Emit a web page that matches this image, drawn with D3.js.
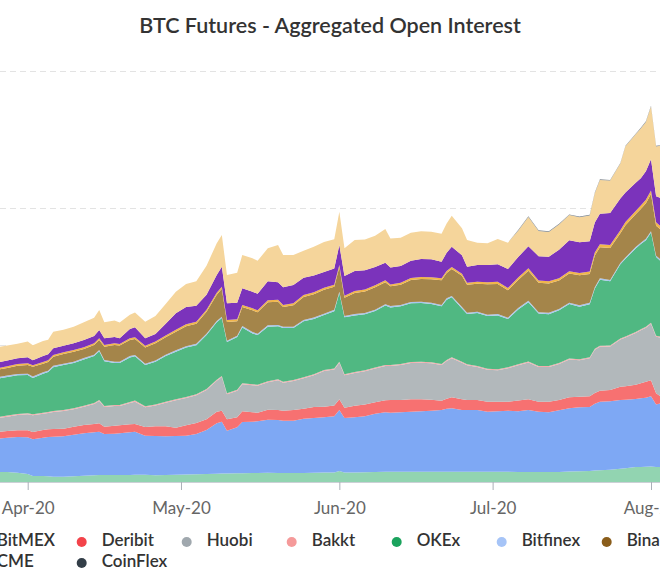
<!DOCTYPE html>
<html>
<head>
<meta charset="utf-8">
<script src="https://cdn.jsdelivr.net/npm/d3@7/dist/d3.min.js"></script>
<style>
  html, body { margin: 0; padding: 0; background: #fff; overflow: hidden; }
  svg { display: block; font-family: Lato, "Open Sans", sans-serif; }
</style>
</head>
<body>
<svg id="chart" width="660" height="577"></svg>
<script>
// ---------------- DATA (USD millions) ----------------
const dates = [
  "2020-03-26","2020-03-28","2020-03-30","2020-04-01","2020-04-02","2020-04-04","2020-04-05","2020-04-06","2020-04-08","2020-04-10",
  "2020-04-12","2020-04-14","2020-04-15","2020-04-16","2020-04-18","2020-04-19","2020-04-21","2020-04-22","2020-04-24","2020-04-26",
  "2020-04-28","2020-04-30","2020-05-02","2020-05-04","2020-05-06","2020-05-08","2020-05-09","2020-05-10","2020-05-12","2020-05-13",
  "2020-05-15","2020-05-16","2020-05-18","2020-05-20","2020-05-21","2020-05-23","2020-05-25","2020-05-27","2020-05-29","2020-05-31",
  "2020-06-01","2020-06-02","2020-06-04","2020-06-06","2020-06-08","2020-06-10","2020-06-11","2020-06-13","2020-06-15","2020-06-17",
  "2020-06-19","2020-06-21","2020-06-22","2020-06-23","2020-06-25","2020-06-26","2020-06-28","2020-06-30","2020-07-02","2020-07-04",
  "2020-07-06","2020-07-08","2020-07-10","2020-07-12","2020-07-14","2020-07-16","2020-07-18","2020-07-20","2020-07-21","2020-07-22",
  "2020-07-24","2020-07-26","2020-07-27","2020-07-29","2020-07-30","2020-07-31","2020-08-01","2020-08-02","2020-08-03","2020-08-04"
];

const kraken = [
  146,146,136,117,88,88,83,77,77,83,
  92,98,102,102,102,102,102,107,107,98,
  102,107,110,112,117,121,124,124,127,127,
  131,131,136,131,131,131,131,136,139,139,
  161,139,139,142,146,150,150,150,150,150,
  150,150,150,150,150,150,150,150,150,150,
  146,146,146,146,146,153,156,161,168,171,
  180,194,200,219,219,223,226,219,219,219
];
const bitmex = [
  486,501,521,536,536,559,574,584,590,607,
  619,628,632,599,603,609,623,628,569,574,
  565,565,566,588,642,736,756,625,672,749,
  749,755,772,774,764,764,793,799,806,821,
  891,796,806,819,851,869,861,867,876,882,
  891,901,920,926,901,901,901,876,882,891,
  886,905,879,872,902,923,934,934,975,1000,
  999,1003,1002,993,1003,1007,1025,913,930,925
];
const deribit = [
  98,98,98,102,107,112,112,112,111,117,
  121,121,123,107,117,117,117,112,127,142,
  146,121,152,161,156,169,161,166,146,156,
  137,126,147,146,146,156,146,161,155,155,
  156,150,169,171,168,175,185,180,181,175,
  161,136,146,161,156,146,146,146,140,131,
  158,156,147,153,149,161,155,156,156,161,
  165,193,196,209,219,232,234,164,96,100
];
const huobi = [
  200,209,223,234,244,238,238,248,258,254,
  267,292,326,288,288,282,311,326,288,304,
  345,400,399,404,428,453,492,365,388,394,
  394,394,402,434,409,423,444,463,521,526,
  534,473,477,485,492,499,496,511,530,534,
  531,521,550,569,534,507,482,467,458,488,
  515,537,507,508,526,552,533,556,631,642,
  635,691,712,755,775,790,826,825,861,860
];
const bakkt = [
  15,15,15,15,15,15,15,15,15,15,
  15,15,15,15,15,15,15,15,15,15,
  15,15,15,15,15,15,15,15,15,15,
  15,15,15,15,15,15,15,15,15,15,
  15,15,15,15,15,15,15,15,15,15,
  15,15,15,15,15,15,15,15,15,15,
  15,15,15,15,15,15,15,15,15,15,
  15,15,15,15,15,15,15,15,15,15
];
const okex = [
  564,564,564,558,529,569,583,641,656,660,
  676,685,710,651,612,612,651,647,602,622,
  666,695,720,718,787,837,845,748,768,816,
  743,724,796,772,783,758,816,806,802,837,
  1002,831,826,816,823,867,841,841,856,856,
  850,841,880,875,778,733,772,768,787,704,
  800,866,765,756,768,794,767,774,879,965,
  936,1082,1133,1218,1242,1264,1315,1148,1099,1095
];
const bitfinex = [
  20,20,20,20,20,20,20,20,20,20,
  20,20,20,20,20,20,20,20,20,20,
  20,20,20,20,20,20,20,20,20,20,
  20,20,20,20,20,20,20,20,20,20,
  20,20,20,20,20,20,20,20,20,20,
  20,20,20,20,20,20,20,20,20,20,
  20,20,20,20,20,20,20,20,20,20,
  20,20,20,20,20,20,20,20,20,20
];
const binance = [
  107,112,121,127,142,126,127,131,142,146,
  131,142,146,194,244,234,234,234,237,250,
  253,272,292,292,321,384,409,273,210,277,
  317,312,337,340,288,312,336,342,350,336,
  361,267,307,314,329,320,288,296,321,331,
  342,361,369,394,457,409,409,444,437,399,
  410,439,428,426,415,425,437,422,463,454,
  467,434,469,479,493,520,545,437,437,440
];
const ftx = [
  25,25,25,25,25,25,25,25,25,25,
  25,25,25,25,25,25,25,25,25,25,
  25,29,29,29,29,29,29,29,29,29,
  29,29,29,29,29,29,29,29,29,29,
  29,29,29,29,29,29,29,29,29,29,
  29,29,29,29,29,29,29,29,35,35,
  35,35,35,35,35,35,35,35,44,44,
  44,44,47,47,50,50,50,50,50,50
];
const bybit = [
  82,82,83,88,73,88,88,98,96,98,
  107,107,121,98,92,83,136,146,110,112,
  175,239,253,234,219,258,292,244,242,244,
  242,242,276,254,258,267,253,242,229,238,
  292,288,292,282,266,256,248,244,253,263,
  263,242,267,296,269,234,244,253,254,277,
  299,323,355,358,415,453,448,441,438,445,
  467,464,434,415,397,416,457,380,415,415
];
const cme = [
  225,219,213,228,219,219,213,242,234,242,
  258,263,292,234,238,228,209,213,241,263,
  288,315,336,356,423,463,463,413,438,486,
  488,482,482,545,472,438,394,423,438,429,
  486,404,453,448,456,493,423,413,409,404,
  403,409,429,453,394,390,326,317,369,384,
  384,426,368,362,369,365,366,378,428,492,
  472,508,672,705,727,718,769,727,768,770
];
const coinflex = [
  0,0,0,0,0,0,0,0,0,0,
  0,0,0,0,0,0,0,0,0,0,
  0,0,0,0,0,0,0,0,0,0,
  0,0,0,0,0,0,0,0,0,0,
  0,0,0,0,0,0,0,0,0,0,
  0,0,0,0,0,0,0,0,0,0,
  10,10,10,10,10,10,10,10,10,10,
  10,10,10,10,10,10,10,10,10,10
];

// stacking order bottom -> top
const seriesNames = ["Kraken","BitMEX","Deribit","Huobi","Bakkt","OKEx","Bitfinex","Binance","FTX","Bybit","CME","CoinFlex"];
const seriesValues = [kraken,bitmex,deribit,huobi,bakkt,okex,bitfinex,binance,ftx,bybit,cme,coinflex];
const yTicks = [0, 2000, 4000, 6000];
const monthTicks = ["2020-04-01","2020-05-01","2020-06-01","2020-07-01","2020-08-01"];
const legendRow1 = ["Kraken","BitMEX","Deribit","Huobi","Bakkt","OKEx","Bitfinex","Binance","FTX","Bybit"];
const legendRow2 = ["CME","CoinFlex"];
const title = "BTC Futures - Aggregated Open Interest";

// ---------------- STYLE ----------------
const areaFill = {
  Kraken:"#92d4b1", BitMEX:"#7ea8f4", Deribit:"#f77171", Huobi:"#b2b8bb", Bakkt:"#f2adad",
  OKEx:"#50b882", Bitfinex:"#a9c6ef", Binance:"#a4854a", FTX:"#f1b64b", Bybit:"#7b33bb",
  CME:"#f5d59b", CoinFlex:"#7c848c"
};
const markerColor = {
  Kraken:"#5ec38c", BitMEX:"#4f86f0", Deribit:"#f3434a", Huobi:"#a0a8ae", Bakkt:"#f59a9a",
  OKEx:"#1ba35d", Bitfinex:"#a6c4f7", Binance:"#8a5d1b", FTX:"#f0a830", Bybit:"#6a1fb0",
  CME:"#f2c77b", CoinFlex:"#333e48"
};

const parse = d3.utcParse("%Y-%m-%d");
const rows = dates.map((d, i) => {
  const r = { date: parse(d) };
  seriesNames.forEach((n, k) => { r[n] = seriesValues[k][i]; });
  return r;
});

const svg = d3.select("#chart");

const x = d3.scaleUtc()
  .domain([parse("2020-04-01"), parse("2020-08-01")])
  .range([27.7, 651]);
const y = d3.scaleLinear().domain([0, 6000]).range([482, 71]);

// title
svg.append("text")
  .attr("x", 330).attr("y", 33)
  .attr("text-anchor", "middle")
  .attr("fill", "#333333")
  .style("font-size", "21.5px")
  .style("font-weight", "600")
  .text(title);

// gridlines
svg.append("g").selectAll("line")
  .data(yTicks.filter(v => v > 0))
  .join("line")
  .attr("x1", 0).attr("x2", 660)
  .attr("y1", d => Math.round(y(d)) + 0.5).attr("y2", d => Math.round(y(d)) + 0.5)
  .attr("stroke", "#e3e3e3")
  .attr("stroke-width", 1)
  .attr("stroke-dasharray", "6,4");

// stacked areas
const stack = d3.stack().keys(seriesNames);
const layers = stack(rows);
const area = d3.area()
  .x(d => x(d.data.date))
  .y0(d => y(d[0]))
  .y1(d => y(d[1]));

svg.append("g").selectAll("path")
  .data(layers)
  .join("path")
  .attr("d", area)
  .attr("fill", d => areaFill[d.key])
  .attr("stroke", "none");

// x axis
const xAxis = d3.axisBottom(x)
  .tickValues(monthTicks.map(parse))
  .tickFormat(d3.utcFormat("%b-%y"))
  .tickSize(8)
  .tickPadding(12);
const gx = svg.append("g").attr("transform", `translate(0,${y(0)})`).call(xAxis);
gx.select(".domain").attr("stroke", "#ccd0d6").attr("d", "M-10,0.5H670");
gx.selectAll(".tick line").attr("stroke", "#aab0b8");
gx.selectAll(".tick text")
  .attr("fill", "#666666")
  .style("font-size", "17px")
  .style("font-family", "Lato, sans-serif");

// legend
const colW = 105;
const col0 = -3.3;
function drawLegendRow(names, startCol, baseY) {
  const g = svg.append("g");
  names.forEach((n, i) => {
    const tx = col0 + (startCol + i) * colW;
    g.append("circle")
      .attr("cx", tx - 20).attr("cy", baseY - 4)
      .attr("r", 5)
      .attr("fill", markerColor[n]);
    g.append("text")
      .attr("x", tx).attr("y", baseY)
      .attr("fill", "#333333")
      .style("font-size", "17px")
      .style("font-weight", "600")
      .text(n);
  });
}
drawLegendRow(legendRow1, -1, 546);
drawLegendRow(legendRow2, 0, 567);
</script>
</body>
</html>
